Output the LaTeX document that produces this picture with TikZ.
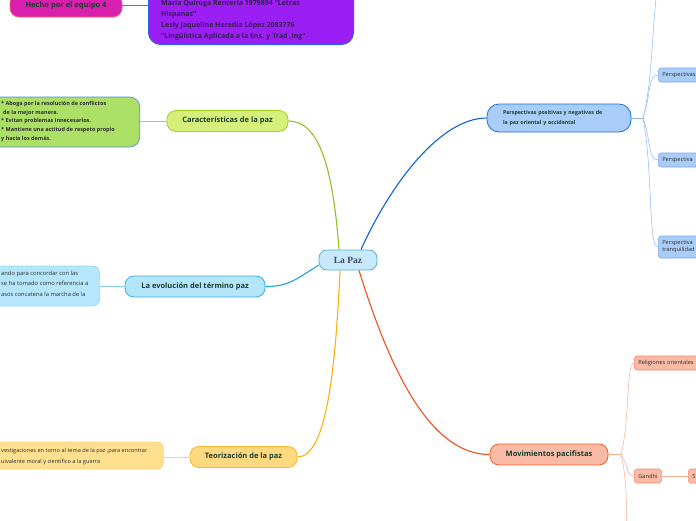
\documentclass[tikz,border=0pt]{standalone}
\usepackage{fontspec}
\setmainfont{Open Sans}
\newfontfamily\pazfont{Liberation Serif}
\usetikzlibrary{positioning}

\definecolor{inkgreen}{HTML}{1B3D2F}
\definecolor{inkgrey}{HTML}{2E2E2E}
\definecolor{inkpurple}{HTML}{34204A}
\definecolor{pazfill}{HTML}{C6E9FB}
\definecolor{pazline}{HTML}{5AAEDE}
\definecolor{pazink}{HTML}{3B4A6B}
\definecolor{caracfill}{HTML}{D5EF7A}
\definecolor{caracline}{HTML}{A6CF1F}
\definecolor{caraclink}{HTML}{8DC21F}
\definecolor{caracnotefill}{HTML}{ABDF66}
\definecolor{caracnoteline}{HTML}{4A90D9}
\definecolor{evolfill}{HTML}{B3E5FB}
\definecolor{evolline}{HTML}{3DAEE6}
\definecolor{evollink}{HTML}{1BA1E2}
\definecolor{evolnotefill}{HTML}{B5E6FC}
\definecolor{evolnoteline}{HTML}{A0D8F2}
\definecolor{teorfill}{HTML}{FFD97F}
\definecolor{teorline}{HTML}{F7B52C}
\definecolor{teorlink}{HTML}{F9B10F}
\definecolor{teornotefill}{HTML}{FFE08F}
\definecolor{teornoteline}{HTML}{FBD27A}
\definecolor{perspfill}{HTML}{A9CCF8}
\definecolor{perspline}{HTML}{1E6DE0}
\definecolor{persplink}{HTML}{0F5FD8}
\definecolor{perspleafline}{HTML}{7AA9F0}
\definecolor{persptwig}{HTML}{8AB4F4}
\definecolor{movfill}{HTML}{F9BBA6}
\definecolor{movline}{HTML}{F0602D}
\definecolor{movlink}{HTML}{F0501E}
\definecolor{movleafline}{HTML}{F48A6A}
\definecolor{movtwig}{HTML}{F9AC94}
\definecolor{hechofill}{HTML}{D91FAE}
\definecolor{hecholine}{HTML}{F0606A}
\definecolor{equipofill}{HTML}{9B1EF5}
\definecolor{equipoline}{HTML}{2F5FE0}
\definecolor{equipolink}{HTML}{3A7FE0}
\definecolor{notelink}{HTML}{8EC0F0}

\begin{document}
\begin{tikzpicture}
  [x=1pt,y=-1pt,
  central/.style={draw=pazline,fill=pazfill,rounded corners=8pt,line width=0.8pt,minimum width=58pt,minimum height=20pt,text=pazink,font=\pazfont\bfseries\fontsize{9.5}{10}\selectfont},
  topic/.style={draw,rounded corners=9pt,line width=0.8pt,minimum height=21pt,inner xsep=10pt,text=inkgreen,font=\bfseries\fontsize{7.5}{9}\selectfont},
  notebox/.style={draw,line width=0.7pt,rounded corners=10pt,anchor=east},
  notetext/.style={inner sep=3pt,anchor=west,align=left,text=inkgrey},
  leaf/.style={draw,rounded corners=3pt,line width=0.6pt,minimum height=14pt,inner xsep=4pt,anchor=west,align=left,text=inkgrey,font=\fontsize{5.7}{7}\selectfont},
  link/.style={line width=1.1pt},
  twig/.style={line width=0.5pt}]
  \useasboundingbox (0,0) rectangle (696,520);

  % centre and main topics
  \node[central] (paz) at (348,260) {La Paz};
  \node[topic,fill=caracfill,draw=caracline,minimum width=121pt] (carac) at (227.5,121) {Características de la paz};
  \node[topic,fill=evolfill,draw=evolline,minimum width=140pt] (evol) at (195,286.5) {La evolución del término paz};
  \node[topic,fill=teorfill,draw=teorline,minimum width=107pt] (teor) at (243.5,457) {Teorización de la paz};
  \node[topic,fill=movfill,draw=movline,minimum width=118pt] (mov) at (549,454.5) {Movimientos pacifistas};
  \node[topic,fill=perspfill,draw=perspline,minimum height=28pt,inner xsep=16pt,text width=112pt,align=left,rounded corners=12pt,font=\bfseries\fontsize{5.3}{10}\selectfont] (persp) at (559,118) {Perspectivas positivas y negativas de\\la paz oriental y occidental};

  % team boxes at the top
  \node[topic,fill=hechofill,draw=hecholine,minimum width=112pt,minimum height=23pt] (hecho) at (66,5.5) {Hecho por el equipo 4};
  \node[draw=equipoline,fill=equipofill,rounded corners=12pt,line width=1pt,minimum width=205pt,minimum height=75pt,anchor=south west] (equipo) at (148,45) {};
  \node[notetext,text=inkpurple,font=\bfseries\fontsize{7}{11}\selectfont] (equipotext) at (158,20) {María Quiroga Rentería 1979894 ''Letras\\Hispanas''\\Lesly Jaqueline Heredia López 2083776\\''Lingüística Aplicada a la Ens. y Trad ,Ing''};
  \draw[line width=1pt,equipolink] (hecho.east) -- (equipo.west |- hecho.east);

  % notes on the left
  \node[notebox,fill=caracnotefill,draw=caracnoteline,minimum width=180pt,minimum height=50pt] (caracnote) at (140,122) {};
  \node[notetext,font=\bfseries\fontsize{5.5}{8.75}\selectfont] (caractext) at (-2,121.5) {* Aboga por la resolución de conflictos\\\hspace*{2pt}de la mejor manera.\\* Evitan problemas innecesarios.\\* Mantiene una actitud de respeto propio\\y hacia los demás.};
  \node[notebox,fill=evolnotefill,draw=evolnoteline,minimum width=160pt,minimum height=40pt,rounded corners=7pt] (evolnote) at (100,286) {};
  \node[notetext,font=\fontsize{5.8}{10.5}\selectfont] (evoltext) at (-2,283.7) {ando para concordar con las\\se ha tomado como referencia a\\asos concatena la marcha de la};
  \node[notebox,fill=teornotefill,draw=teornoteline,minimum width=200pt,minimum height=27pt,rounded corners=6pt] (teornote) at (163.5,455.5) {};
  \node[notetext,font=\fontsize{5.6}{11}\selectfont] (teortext) at (-2,456.5) {vestigaciones en torno al tema de la paz ,para encontrar\\uivalente moral y científico a la guerra};

  \draw[line width=0.7pt,notelink] (carac.west) -- (caracnote.east |- carac.west);
  \draw[line width=0.7pt,evolline!60] (evol.west) -- (evolnote.east |- evol.west);
  \draw[line width=0.7pt,teornoteline] (teor.west) -- (teornote.east |- teor.west);

  % main links
  \draw[link,caraclink] ([xshift=-9pt]paz.north) .. controls (333,170) and (320,121) .. (carac.east);
  \draw[link,persplink] ([xshift=13pt]paz.north) .. controls (390,185) and (440,118) .. (persp.west);
  \draw[link,evollink] (paz.190) .. controls (295,280) and (288,286.5) .. (evol.east);
  \draw[link,teorlink] ([xshift=-8pt]paz.south) .. controls (335,380) and (325,457) .. (teor.east);
  \draw[link,movlink] ([xshift=11pt]paz.south) .. controls (390,370) and (430,454.5) .. (mov.west);

  % perspectivas leaves
  \node[leaf,fill=perspfill,draw=perspleafline,text width=42pt] (perspa) at (658,75) {Perspectivas};
  \node[leaf,fill=perspfill,draw=perspleafline,text width=42pt] (perspb) at (658,160) {Perspectiva};
  \node[leaf,fill=perspfill,draw=perspleafline,text width=42pt,minimum height=22pt] (perspc) at (658,247) {Perspectiva\\tranquilidad};
  \coordinate (perspfork) at (643,118);
  \coordinate (perspup) at (657,-10);
  \draw[twig,persptwig,line width=0.7pt] (persp.east) -- (perspfork);
  \draw[twig,persptwig] (perspfork) .. controls (652,85) and (652,30) .. (perspup);
  \draw[twig,persptwig] (perspfork) .. controls (651,95) and (648,75) .. (perspa.west);
  \draw[twig,persptwig] (perspfork) .. controls (651,140) and (648,160) .. (perspb.west);
  \draw[twig,persptwig] (perspfork) .. controls (653,170) and (648,247) .. (perspc.west);

  % movimientos leaves
  \node[leaf,fill=movfill,draw=movleafline,text width=66pt] (relig) at (634,363) {Religiones orientales};
  \node[leaf,fill=movfill,draw=movleafline] (gandhi) at (634,476) {Gandhi};
  \node[leaf,fill=movfill,draw=movleafline,text width=22pt] (gandhis) at (688,476) {S};
  \coordinate (movfork) at (621,454.5);
  \coordinate (movdown) at (627,530);
  \draw[twig,movtwig,line width=0.7pt] (mov.east) -- (movfork);
  \draw[twig,movtwig] (movfork) .. controls (630,420) and (626,363) .. (relig.west);
  \draw[twig,movtwig] (movfork) .. controls (629,466) and (626,476) .. (gandhi.west);
  \draw[twig,movtwig] (movfork) .. controls (627,480) and (626,500) .. (movdown);
  \draw[twig,movtwig,line width=0.7pt] (gandhi.east) -- (gandhis.west);
\end{tikzpicture}
\end{document}
